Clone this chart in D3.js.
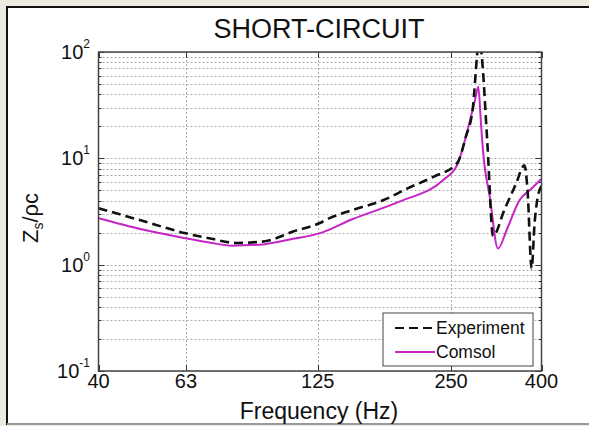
<!DOCTYPE html>
<html>
<head>
<meta charset="utf-8">
<title>short-circuit impedance</title>
<script src="https://cdn.jsdelivr.net/npm/d3@7"></script>
<style>
  html, body { margin: 0; padding: 0; background: #ece9df; }
  svg { display: block; font-family: "Liberation Sans", Arial, sans-serif; }
</style>
</head>
<body>
<svg width="589" height="426"></svg>
<script>
// values
var expFreq = [40, 50, 63, 72, 82, 95, 110, 126, 133, 150, 176, 200, 228, 258, 270, 280, 286, 289, 293, 302, 311, 330, 350, 366, 372, 380, 386, 393, 400];
var expZ    = [3.4, 2.6, 1.97, 1.75, 1.6, 1.66, 2.05, 2.45, 2.74, 3.27, 4.05, 5.25, 6.7, 9.0, 16, 30, 90, 140, 95, 13.6, 1.86, 3.3, 5.7, 8.6, 5.0, 0.92, 2.5, 4.5, 5.5];
var comFreq = [40, 50, 63, 72, 80, 95, 110, 126, 150, 191, 240, 258, 270, 276, 283, 288, 292, 295, 306, 319, 335, 357, 380, 400];
var comZ    = [2.73, 2.15, 1.77, 1.6, 1.51, 1.56, 1.75, 1.97, 2.69, 3.91, 6.25, 8.65, 16, 23, 35, 47, 21.5, 12, 4.24, 1.42, 2.2, 4.05, 5.2, 6.4];
var xTicks  = [40, 63, 125, 250, 400];
var yExps   = [-1, 0, 1, 2];
var seriesNames = ["Experiment", "Comsol"];

var svg = d3.select("svg");
var L = 98.5, R = 541.5, T = 52, B = 371;

// panel
svg.append("rect").attr("x", 7).attr("y", 7).attr("width", 600).attr("height", 417)
  .attr("fill", "white").attr("stroke", "#111").attr("stroke-width", 2);
svg.append("line").attr("x1", 7).attr("x2", 589).attr("y1", 424).attr("y2", 424)
  .attr("stroke", "#999").attr("stroke-width", 2);

var x = d3.scaleLog().domain([40, 400]).range([L, R]);
var y = d3.scaleLog().domain([0.1, 100]).range([B, T]);

// grid
var minorY = [];
yExps.slice(0, 3).forEach(function(e) {
  for (var k = 1; k <= 9; k++) minorY.push(k * Math.pow(10, e));
});
minorY.push(100);
var grid = svg.append("g").attr("stroke", "#aaa").attr("stroke-width", 1)
  .attr("stroke-dasharray", "2,2");
grid.selectAll(".gy").data(minorY).enter().append("line")
  .attr("x1", L).attr("x2", R)
  .attr("y1", function(d) { return Math.round(y(d)) + 0.5; })
  .attr("y2", function(d) { return Math.round(y(d)) + 0.5; });
grid.selectAll(".gx").data(xTicks.slice(1, 4)).enter().append("line")
  .attr("y1", T).attr("y2", B)
  .attr("x1", function(d) { return Math.round(x(d)) + 0.5; })
  .attr("x2", function(d) { return Math.round(x(d)) + 0.5; });

// ticks (inward, both sides)
var tk = svg.append("g").attr("stroke", "#333").attr("stroke-width", 1);
minorY.forEach(function(v) {
  var len = (Math.log10(v) % 1 === 0) ? 6 : 3;
  var yy = Math.round(y(v)) + 0.5;
  tk.append("line").attr("x1", L).attr("x2", L + len).attr("y1", yy).attr("y2", yy);
  tk.append("line").attr("x1", R).attr("x2", R - len).attr("y1", yy).attr("y2", yy);
});
xTicks.forEach(function(v) {
  var xx = Math.round(x(v)) + 0.5;
  tk.append("line").attr("x1", xx).attr("x2", xx).attr("y1", B).attr("y2", B - 6);
  tk.append("line").attr("x1", xx).attr("x2", xx).attr("y1", T).attr("y2", T + 6);
});

// curves
var clip = svg.append("clipPath").attr("id", "plotclip");
clip.append("rect").attr("x", L).attr("y", T).attr("width", R - L).attr("height", B - T);
var line = d3.line()
  .x(function(d) { return x(d[0]); })
  .y(function(d) { return y(d[1]); })
  .curve(d3.curveMonotoneX);
var plot = svg.append("g").attr("clip-path", "url(#plotclip)");
plot.append("path").datum(d3.zip(comFreq, comZ)).attr("d", line)
  .attr("fill", "none").attr("stroke", "#c624c6").attr("stroke-width", 2);
plot.append("path").datum(d3.zip(expFreq, expZ)).attr("d", line)
  .attr("fill", "none").attr("stroke", "#111").attr("stroke-width", 2.6)
  .attr("stroke-dasharray", "9,5");

// axes box
svg.append("rect").attr("x", L).attr("y", T).attr("width", R - L).attr("height", B - T)
  .attr("fill", "none").attr("stroke", "#444").attr("stroke-width", 1.5);

// x tick labels
svg.selectAll(".xl").data(xTicks).enter().append("text")
  .attr("x", function(d) { return x(d); }).attr("y", B + 17)
  .attr("text-anchor", "middle").attr("font-size", 20).attr("fill", "#111")
  .text(function(d) { return d; });

// y tick labels 10^n
yExps.forEach(function(e) {
  var t = svg.append("text").attr("x", 90).attr("y", y(Math.pow(10, e)) + 7)
    .attr("text-anchor", "end").attr("font-size", 20).attr("fill", "#111");
  t.append("tspan").text("10");
  t.append("tspan").attr("dy", -11).attr("font-size", 12).text(e);
});

// titles
svg.append("text").attr("x", 319).attr("y", 38).attr("text-anchor", "middle")
  .attr("font-size", 27).attr("fill", "#111").text("SHORT-CIRCUIT");
svg.append("text").attr("x", 319).attr("y", 419).attr("text-anchor", "middle")
  .attr("font-size", 23).attr("fill", "#111").text("Frequency (Hz)");
var yl = svg.append("text").attr("transform", "translate(38,218) rotate(-90)")
  .attr("text-anchor", "middle").attr("font-size", 22).attr("fill", "#111");
yl.append("tspan").text("Z");
yl.append("tspan").attr("dy", 5).attr("font-size", 14).text("s");
yl.append("tspan").attr("dy", -5).text("/\u03c1c");

// legend
var lg = svg.append("g");
lg.append("rect").attr("x", 383).attr("y", 313).attr("width", 150).attr("height", 53)
  .attr("fill", "white").attr("stroke", "#444").attr("stroke-width", 1);
var lgStyles = [
  { stroke: "#111", dash: "9,5", w: 2 },
  { stroke: "#c624c6", dash: null, w: 2 }
];
seriesNames.forEach(function(n, i) {
  var yy = 328 + i * 24;
  lg.append("line").attr("x1", 395).attr("x2", 435).attr("y1", yy).attr("y2", yy)
    .attr("stroke", lgStyles[i].stroke).attr("stroke-width", lgStyles[i].w)
    .attr("stroke-dasharray", lgStyles[i].dash);
  lg.append("text").attr("x", 436).attr("y", yy + 6).attr("font-size", 17.5)
    .attr("fill", "#111").text(n);
});
</script>
</body>
</html>
